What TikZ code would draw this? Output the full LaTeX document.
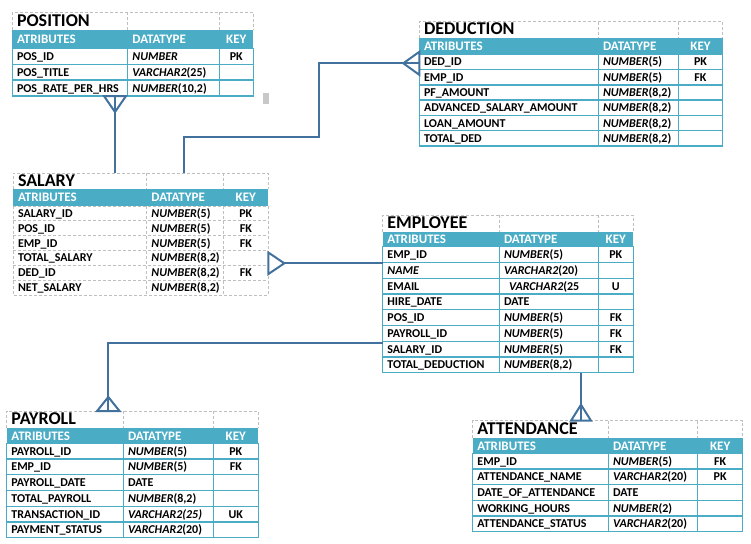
\documentclass[tikz,border=0pt]{standalone}
\usepackage{fontspec}
\setmainfont{Carlito}
\usetikzlibrary{fit}

\definecolor{erdteal}{HTML}{4BACC6}
\definecolor{erdgrey}{HTML}{BFBFBF}
\definecolor{erdlink}{HTML}{41719C}
\definecolor{marker}{HTML}{C8C8C8}

\tikzset{
  titlegrid/.style={draw=erdgrey, line width=0.8pt, dash pattern=on 3pt off 2pt},
  solidgrid/.style={draw=erdteal, line width=1.3pt},
  dashgrid/.style={draw=erdgrey, line width=0.8pt, dash pattern=on 3pt off 2pt},
  ttl/.style={anchor=base west, inner sep=0pt, font=\fontsize{18}{20}\selectfont\bfseries},
  hdr/.style={inner sep=0pt, text=white, font=\fontsize{13}{15}\selectfont\bfseries},
  cell/.style={inner sep=0pt, font=\fontsize{12}{14}\selectfont\bfseries},
  tablebox/.style={inner sep=0pt, outer sep=0pt},
  link/.style={draw=erdlink, line width=2.2pt},
  foot/.style={draw=erdlink, line width=2pt, line join=miter},
}

% data type: italic name followed by an upright size
\newcommand\ty[2]{\textit{#1}#2}

% one entity table; geometry comes from \tL \tA \tB \tR (columns)
% and \tT \tH \tD \trh \tn (title top, header top, header bottom, row height, rows)
\newcommand\erdtable[3]{% #1 node name, #2 title, #3 grid style
  \def\tname{#1}%
  \pgfmathsetmacro\tbot{\tD+\tn*\trh}%
  \pgfmathsetmacro\tmid{(\tT+\tH)/2+5.3}%
  \pgfmathsetmacro\hmid{(\tH+\tD)/2+4.2}%
  \pgfmathsetmacro\kx{(\tB+\tR)/2}%
  \pgfmathtruncatemacro\tnm{\tn-1}%
  \draw[titlegrid] (\tL,\tH) -- (\tL,\tT) -- (\tR,\tT) -- (\tR,\tH)
                   (\tA,\tT) -- (\tA,\tH) (\tB,\tT) -- (\tB,\tH);
  \fill[erdteal] (\tL,\tH) rectangle (\tR,\tD);
  \node[ttl] (#1-title) at (\tL+4.5,\tmid) {#2};
  \node[hdr, anchor=base west] (#1-h1) at (\tL+4.5,\hmid) {ATRIBUTES};
  \node[hdr, anchor=base west] (#1-h2) at (\tA+4.5,\hmid) {DATATYPE};
  \node[hdr, anchor=base] (#1-h3) at (\kx,\hmid) {KEY};
  \draw[#3] (\tL,\tD) rectangle (\tR,\tbot)
            (\tA,\tD) -- (\tA,\tbot) (\tB,\tD) -- (\tB,\tbot);
  \foreach \i in {1,...,\tnm} {\draw[#3] (\tL,\tD+\i*\trh) -- (\tR,\tD+\i*\trh);}
  \node[tablebox, fit={(\tL,\tT)(\tR,\tbot)}] (#1) {};
}

\newcommand\erdrow[4]{% #1 row, #2 attribute, #3 data type, #4 key
  \pgfmathsetmacro\ry{\tD+(#1-0.5)*\trh+4}%
  \node[cell, anchor=base west] (\tname-a#1) at (\tL+4.5,\ry) {#2};
  \node[cell, anchor=base west] (\tname-t#1) at (\tA+4.5,\ry) {#3};
  \if\relax\detokenize{#4}\relax\else
    \node[cell, anchor=base] (\tname-k#1) at (\kx,\ry) {#4};
  \fi
}

\begin{document}
\begin{tikzpicture}[x=1pt, y=-1pt]
\useasboundingbox (0,0) rectangle (751,543);

% POSITION
\begin{scope}
  \def\tL{12.3}\def\tA{127.7}\def\tB{219.3}\def\tR{253.3}
  \def\tT{12.3}\def\tH{30}\def\tD{48.3}\def\trh{15.9}\def\tn{3}
  \erdtable{position}{POSITION}{solidgrid}
  \erdrow{1}{POS\_ID}{\ty{NUMBER}{}}{PK}
  \erdrow{2}{POS\_TITLE}{\ty{VARCHAR2}{(25)}}{}
  \erdrow{3}{POS\_RATE\_PER\_HRS}{\ty{NUMBER}{(10,2)}}{}
\end{scope}

% DEDUCTION
\begin{scope}
  \def\tL{419.3}\def\tA{598.3}\def\tB{678.3}\def\tR{722.7}
  \def\tT{21.7}\def\tH{37.7}\def\tD{54.3}\def\trh{15.28}\def\tn{6}
  \erdtable{deduction}{DEDUCTION}{solidgrid}
  \erdrow{1}{DED\_ID}{\ty{NUMBER}{(5)}}{PK}
  \erdrow{2}{EMP\_ID}{\ty{NUMBER}{(5)}}{FK}
  \erdrow{3}{PF\_AMOUNT}{\ty{NUMBER}{(8,2)}}{}
  \erdrow{4}{ADVANCED\_SALARY\_AMOUNT}{\ty{NUMBER}{(8,2)}}{}
  \erdrow{5}{LOAN\_AMOUNT}{\ty{NUMBER}{(8,2)}}{}
  \erdrow{6}{TOTAL\_DED}{\ty{NUMBER}{(8,2)}}{}
\end{scope}

% SALARY
\begin{scope}
  \def\tL{13.3}\def\tA{146.7}\def\tB{223.3}\def\tR{268.3}
  \def\tT{173.3}\def\tH{189.3}\def\tD{206}\def\trh{14.83}\def\tn{6}
  \erdtable{salary}{SALARY}{dashgrid}
  \erdrow{1}{SALARY\_ID}{\ty{NUMBER}{(5)}}{PK}
  \erdrow{2}{POS\_ID}{\ty{NUMBER}{(5)}}{FK}
  \erdrow{3}{EMP\_ID}{\ty{NUMBER}{(5)}}{FK}
  \erdrow{4}{TOTAL\_SALARY}{\ty{NUMBER}{(8,2)}}{}
  \erdrow{5}{DED\_ID}{\ty{NUMBER}{(8,2)}}{FK}
  \erdrow{6}{NET\_SALARY}{\ty{NUMBER}{(8,2)}}{}
\end{scope}

% EMPLOYEE
\begin{scope}
  \def\tL{382.7}\def\tA{499.3}\def\tB{598.3}\def\tR{633.3}
  \def\tT{215}\def\tH{231.7}\def\tD{246.7}\def\trh{15.75}\def\tn{8}
  \erdtable{employee}{EMPLOYEE}{solidgrid}
  \erdrow{1}{EMP\_ID}{\ty{NUMBER}{(5)}}{PK}
  \erdrow{2}{\textit{NAME}}{\ty{VARCHAR2}{(20)}}{}
  \erdrow{3}{EMAIL}{\hspace*{5pt}\ty{VARCHAR2}{(25}}{U}
  \erdrow{4}{HIRE\_DATE}{DATE}{}
  \erdrow{5}{POS\_ID}{\ty{NUMBER}{(5)}}{FK}
  \erdrow{6}{PAYROLL\_ID}{\ty{NUMBER}{(5)}}{FK}
  \erdrow{7}{SALARY\_ID}{\ty{NUMBER}{(5)}}{FK}
  \erdrow{8}{TOTAL\_DEDUCTION}{\ty{NUMBER}{(8,2)}}{}
\end{scope}

% PAYROLL
\begin{scope}
  \def\tL{6.7}\def\tA{123.3}\def\tB{213.3}\def\tR{258.3}
  \def\tT{411}\def\tH{428.3}\def\tD{443.3}\def\trh{15.73}\def\tn{6}
  \erdtable{payroll}{PAYROLL}{solidgrid}
  \erdrow{1}{PAYROLL\_ID}{\ty{NUMBER}{(5)}}{PK}
  \erdrow{2}{EMP\_ID}{\ty{NUMBER}{(5)}}{FK}
  \erdrow{3}{PAYROLL\_DATE}{DATE}{}
  \erdrow{4}{TOTAL\_PAYROLL}{\ty{NUMBER}{(8,2)}}{}
  \erdrow{5}{TRANSACTION\_ID}{\ty{VARCHAR2(25)}{}}{UK}
  \erdrow{6}{PAYMENT\_STATUS}{\ty{VARCHAR2}{(20)}}{}
\end{scope}

% ATTENDANCE
\begin{scope}
  \def\tL{472.7}\def\tA{608.3}\def\tB{697.7}\def\tR{742.7}
  \def\tT{420.7}\def\tH{438.3}\def\tD{453.3}\def\trh{15.68}\def\tn{5}
  \erdtable{attendance}{ATTENDANCE}{solidgrid}
  \erdrow{1}{EMP\_ID}{\ty{NUMBER}{(5)}}{FK}
  \erdrow{2}{ATTENDANCE\_NAME}{\ty{VARCHAR2}{(20)}}{PK}
  \erdrow{3}{DATE\_OF\_ATTENDANCE}{DATE}{}
  \erdrow{4}{WORKING\_HOURS}{\ty{NUMBER}{(2)}}{}
  \erdrow{5}{ATTENDANCE\_STATUS}{\ty{VARCHAR2}{(20)}}{}
\end{scope}

% small grey marker beside POSITION
\fill[marker] (262.7,92.7) rectangle (269,104.3);

% POSITION -< SALARY
\coordinate (p1) at ([xshift=102.7pt]position.south west);
\draw[link] (p1) -- (p1 |- salary.north);
\draw[foot] ([xshift=-11pt]p1) -- ([yshift=-16pt]p1) -- ([xshift=11pt]p1) -- cycle;

% SALARY -< DEDUCTION
\coordinate (p2) at ([xshift=170.7pt]salary.north west);
\coordinate (bend2) at (319.3,137);
\coordinate (p2e) at ([yshift=-41.6pt]deduction.north west);
\draw[link] (p2) |- (bend2) |- (p2e);
\draw[foot] ([yshift=11.5pt]p2e) -- ([xshift=-16pt]p2e) -- ([yshift=-11.5pt]p2e) -- cycle;

% EMPLOYEE -< SALARY
\coordinate (p3) at ([yshift=-48.3pt]employee.north west);
\coordinate (p3s) at (p3 -| salary.east);
\draw[link] (p3) -- ([xshift=16pt]p3s);
\draw[foot] ([yshift=10.8pt]p3s) -- ([xshift=16pt]p3s) -- ([yshift=-10.8pt]p3s) -- cycle;

% EMPLOYEE -< PAYROLL
\coordinate (p4) at ([yshift=-128.3pt]employee.north west);
\coordinate (p4e) at ([xshift=101.6pt]payroll.north west);
\draw[link] (p4) -| (p4e);
\draw[foot] ([xshift=-11.2pt]p4e) -- ([yshift=14pt]p4e) -- ([xshift=11.2pt]p4e) -- cycle;

% EMPLOYEE -< ATTENDANCE
\coordinate (p5) at ([xshift=198.3pt]employee.south west);
\coordinate (p5e) at (p5 |- attendance.north);
\draw[link] (p5) -- (p5e);
\draw[foot] ([xshift=-10pt]p5e) -- ([yshift=16pt]p5e) -- ([xshift=10pt]p5e) -- cycle;
\end{tikzpicture}
\end{document}
